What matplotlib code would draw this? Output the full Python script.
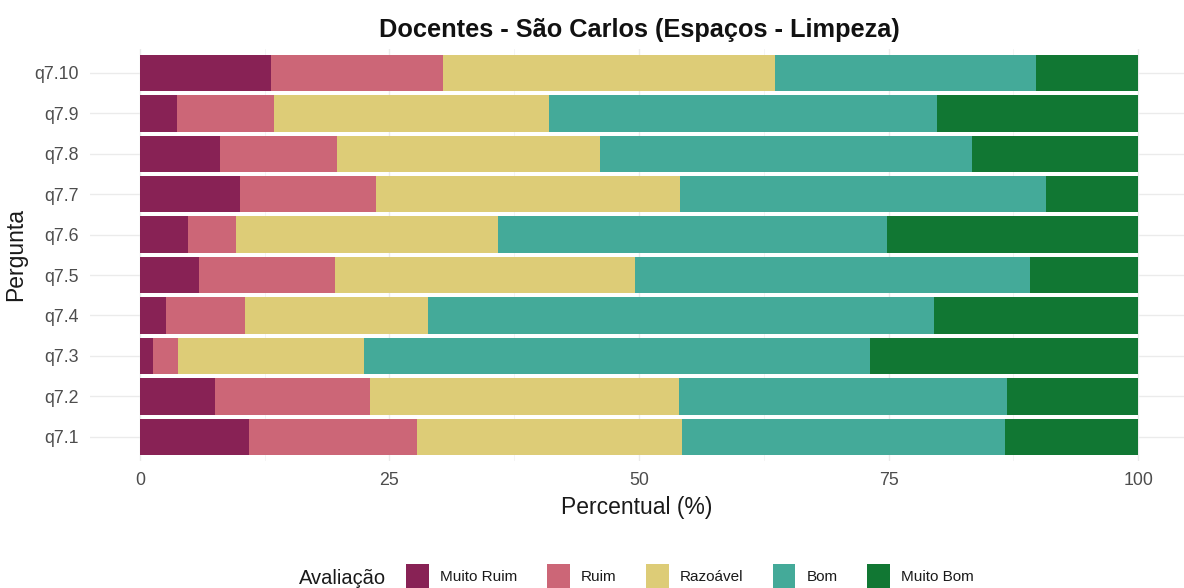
import matplotlib
matplotlib.use("Agg")
import matplotlib.pyplot as plt
from matplotlib.patches import Patch
import numpy as np

plt.rcParams["font.family"] = ["Liberation Sans", "DejaVu Sans"]

questions = ["q7.1", "q7.2", "q7.3", "q7.4", "q7.5", "q7.6", "q7.7", "q7.8", "q7.9", "q7.10"]
categories = ["Muito Ruim", "Ruim", "Razoável", "Bom", "Muito Bom"]
muito_ruim = [10.9, 7.5, 1.3, 2.6, 5.9, 4.8, 10.0, 8.0, 3.7, 13.1]
ruim       = [16.9, 15.6, 2.5, 7.9, 13.6, 4.8, 13.7, 11.7, 9.7, 17.3]
razoavel   = [26.5, 30.9, 18.7, 18.4, 30.1, 26.3, 30.4, 26.4, 27.6, 33.2]
bom        = [32.4, 32.9, 50.6, 50.7, 39.6, 38.9, 36.7, 37.3, 38.9, 26.2]
muito_bom  = [13.3, 13.1, 26.9, 20.4, 10.8, 25.2, 9.2, 16.6, 20.1, 10.2]
colors = ["#882255", "#CC6677", "#DDCC77", "#44AA99", "#117733"]

series = [muito_ruim, ruim, razoavel, bom, muito_bom]

fig = plt.figure(figsize=(11.84, 5.88), dpi=100)
W, H = 1184, 588
ax = fig.add_axes([90 / W, 1 - 461 / H, (1184 - 90) / W, (461 - 48.7) / H])

y = np.arange(len(questions))
left = np.zeros(len(questions))
for vals, col, name in zip(series, colors, categories):
    vals = np.array(vals)
    ax.barh(y, vals, left=left, height=0.9, color=col, label=name, zorder=3)
    left += vals

ax.set_xlim(-5, 104.6)
ax.set_ylim(-0.6, len(questions) - 0.4)
ax.set_yticks(y)
ax.set_yticklabels(questions)
ax.set_xticks([0, 25, 50, 75, 100])
ax.set_xticklabels(["0", "25", "50", "75", "100"])
ax.set_xticks([12.5, 37.5, 62.5, 87.5], minor=True)
ax.grid(True, which="major", color="#ebebeb", linewidth=1.0, zorder=0)
ax.grid(True, which="minor", axis="x", color="#f3f3f3", linewidth=0.6, zorder=0)
for s in ax.spines.values():
    s.set_visible(False)
ax.tick_params(axis="both", which="both", length=0, colors="#4d4d4d", labelsize=12.8)
ax.tick_params(axis="y", pad=8)
ax.tick_params(axis="x", pad=8)

ax.set_xlabel("Percentual (%)", fontsize=16.5, color="#1a1a1a", labelpad=5)
ax.set_ylabel("Pergunta", fontsize=16.5, color="#1a1a1a", labelpad=5)
fig.text(639 / W, 1 - 30 / H, "Docentes - São Carlos (Espaços - Limpeza)",
         ha="center", va="center", fontsize=18.3, fontweight="bold", color="#111111")

handles = [Patch(facecolor=c, edgecolor="none", label=n) for c, n in zip(colors, categories)]
leg = fig.legend(handles=handles, loc="center left", bbox_to_anchor=(406 / W, 1 - 576 / H),
                 ncol=5, frameon=False, fontsize=11, handlelength=1.5, handleheight=2.0,
                 columnspacing=1.9, handletextpad=0.75, labelcolor="#1a1a1a",
                 borderpad=0, borderaxespad=0)
fig.text(299 / W, 1 - 578 / H, "Avaliação", ha="left", va="center", fontsize=14.5, color="#1a1a1a")

fig.savefig("out.png", dpi=100, facecolor="white")
